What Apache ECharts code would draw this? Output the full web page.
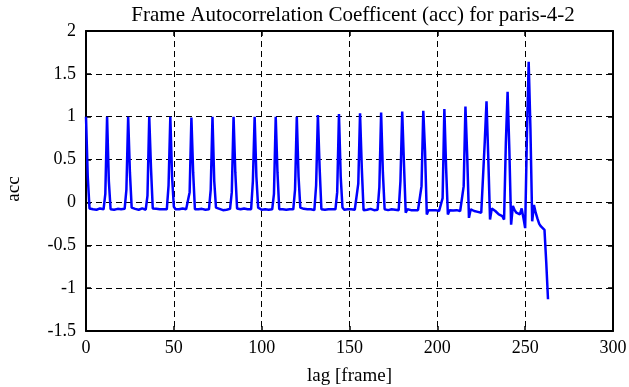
<!DOCTYPE html>
<html>
<head>
<meta charset="utf-8">
<script src="https://cdn.jsdelivr.net/npm/echarts@6/dist/echarts.min.js"></script>
<style>html,body{margin:0;padding:0;background:#fff;}#c{width:629px;height:387px;}</style>
</head>
<body>
<div id="c"></div>
<script>
var titleText = 'Frame Autocorrelation Coefficent (acc) for paris-4-2';
var xTicks = [0, 50, 100, 150, 200, 250, 300];
var yTicks = [-1.5, -1, -0.5, 0, 0.5, 1, 1.5, 2];
// acc value for lag 0,1,2,... (one per frame)
var acc = [
 1.00, 0.30, -0.07, -0.07, -0.08, -0.075, -0.085, -0.08, -0.07, -0.085, -0.08, 0.10,
 1.00, 0.25, -0.08, -0.08, -0.085, -0.08, -0.075, -0.085, -0.08, -0.09, -0.075, 0.15,
 1.00, 0.35, -0.06, -0.08, -0.075, -0.08, -0.085, -0.08, -0.07, -0.08, -0.085, 0.08,
 1.00, 0.40, -0.07, -0.08, -0.075, -0.085, -0.08, -0.085, -0.08, -0.07, -0.08, 0.20,
 1.00, 0.30, -0.05, -0.08, -0.085, -0.08, -0.08, -0.07, -0.085, -0.08, -0.09, 0.12,
 0.99, 0.35, -0.08, -0.08, -0.08, -0.085, -0.075, -0.08, -0.085, -0.08, -0.08, 0.15,
 1.00, 0.25, -0.06, -0.08, -0.075, -0.08, -0.09, -0.08, -0.085, -0.08, -0.075, 0.12,
 1.00, 0.35, -0.07, -0.085, -0.08, -0.08, -0.07, -0.085, -0.08, -0.09, -0.08, 0.25,
 1.00, 0.30, -0.06, -0.08, -0.085, -0.08, -0.08, -0.075, -0.085, -0.08, -0.08, 0.10,
 1.00, 0.35, -0.08, -0.08, -0.08, -0.075, -0.085, -0.08, -0.08, -0.085, -0.08, 0.15,
 1.00, 0.30, -0.06, -0.08, -0.075, -0.085, -0.08, -0.07, -0.08, -0.085, -0.09, 0.20,
 1.02, 0.40, -0.08, -0.08, -0.085, -0.08, -0.08, -0.075, -0.08, -0.085, -0.08, 0.12,
 1.03, 0.30, -0.06, -0.085, -0.08, -0.08, -0.09, -0.08, -0.08, -0.085, -0.095, 0.22,
 1.04, 0.40, -0.09, -0.08, -0.085, -0.08, -0.075, -0.085, -0.09, -0.08, -0.085, 0.18,
 1.05, 0.35, -0.08, -0.08, -0.09, -0.085, -0.08, -0.09, -0.085, -0.09, -0.09, 0.25,
 1.06, 0.45, -0.12, -0.08, -0.085, -0.09, -0.085, -0.09, -0.08, -0.09, -0.095, 0.19,
 1.07, 0.60, -0.14, -0.09, -0.095, -0.09, -0.10, -0.09, -0.095, -0.10, -0.09, 0.05,
 1.09, 0.40, -0.14, -0.09, -0.10, -0.095, -0.10, -0.09, -0.11, -0.10, -0.10, 0.19,
 1.12, 0.55, -0.18, -0.08, -0.09, -0.10, -0.09, -0.11, -0.10, -0.12, -0.14, 0.71,
 1.18, 0.52, -0.20, -0.07, -0.09, -0.10, -0.12, -0.14, -0.13, -0.16, -0.20, 0.69,
 1.29, 0.61, -0.26, -0.04, -0.09, -0.12, -0.10, -0.14, -0.07, -0.18, -0.30, 0.78,
 1.64, 0.86, -0.22, -0.03, -0.12, -0.19, -0.25, -0.28, -0.30, -0.32, -0.70, -1.13
];

var points = acc.map(function (v, i) { return [i, v]; });
var font = 'Liberation Serif';
var chart = echarts.init(document.getElementById('c'), null, {renderer: 'canvas'});
var axisLine = {show: true, onZero: false, lineStyle: {color: '#000', width: 2}};
var tick = {show: true, inside: true, length: 5, lineStyle: {color: '#000', width: 1.5}};
chart.setOption({
  animation: false,
  backgroundColor: '#fff',
  title: {
    text: titleText, left: 348, top: 0, textAlign: 'center',
    textStyle: {fontFamily: font, fontSize: 21, fontWeight: 'normal', color: '#000'}
  },
  grid: {left: 86, right: 16, top: 31, bottom: 56, containLabel: false, outerBoundsMode: 'none'},
  xAxis: [{
    type: 'value', min: xTicks[0], max: xTicks[xTicks.length - 1], interval: 50,
    name: 'lag [frame]', nameLocation: 'middle', nameGap: 36,
    nameTextStyle: {fontFamily: font, fontSize: 19, color: '#000'},
    axisLine: axisLine, axisTick: tick,
    axisLabel: {fontFamily: font, fontSize: 18, color: '#000', margin: 8},
    splitLine: {show: true, lineStyle: {color: '#000', type: [6, 4], width: 1}}
  }, {
    type: 'value', position: 'top', min: xTicks[0], max: xTicks[xTicks.length - 1], interval: 50,
    axisLine: axisLine, axisTick: tick, axisLabel: {show: false}, splitLine: {show: false}
  }],
  yAxis: [{
    type: 'value', min: yTicks[0], max: yTicks[yTicks.length - 1], interval: 0.5,
    name: 'acc', nameLocation: 'middle', nameGap: 62,
    nameTextStyle: {fontFamily: font, fontSize: 19, color: '#000', padding: [0, 16, 0, 0]},
    axisLine: axisLine, axisTick: tick,
    axisLabel: {fontFamily: font, fontSize: 18, color: '#000', margin: 10},
    splitLine: {show: true, lineStyle: {color: '#000', type: [6, 4], width: 1}}
  }, {
    type: 'value', position: 'right', min: yTicks[0], max: yTicks[yTicks.length - 1], interval: 0.5,
    axisLine: axisLine, axisTick: tick, axisLabel: {show: false}, splitLine: {show: false}
  }],
  series: [{
    type: 'line', data: points, xAxisIndex: 0, yAxisIndex: 0,
    showSymbol: false, symbol: 'none',
    lineStyle: {color: '#0000ff', width: 2.5},
    z: 5
  }]
});
</script>
</body>
</html>
